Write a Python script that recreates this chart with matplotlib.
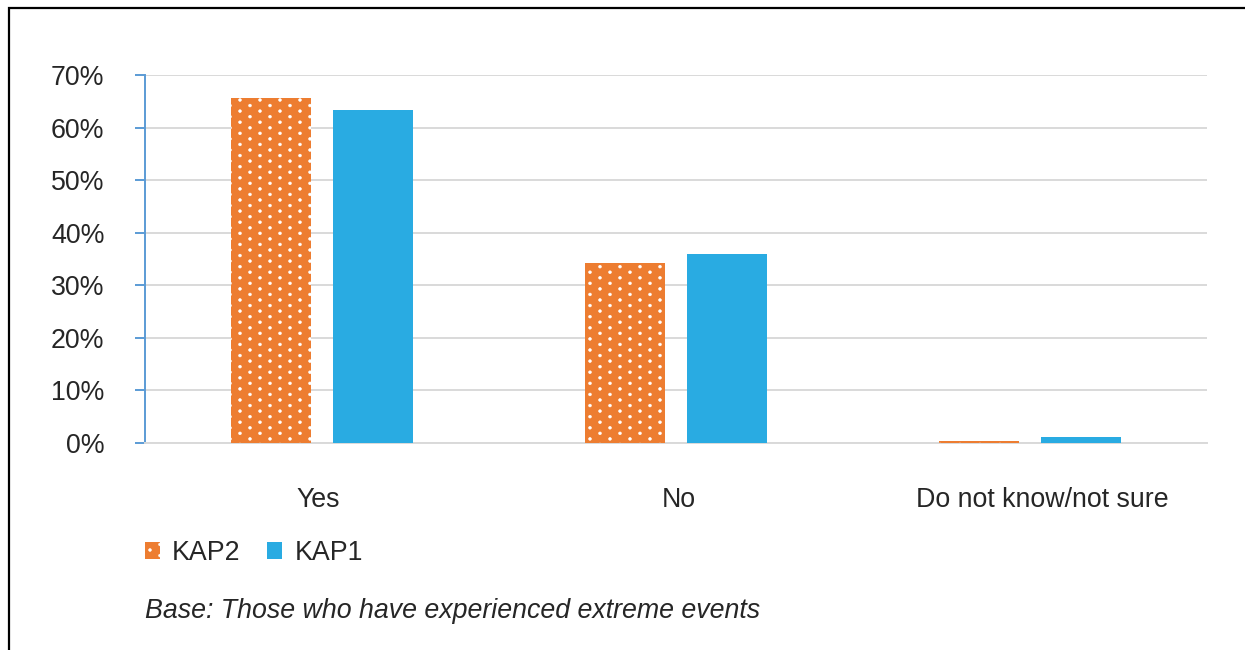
import matplotlib
matplotlib.use("Agg")
import matplotlib.pyplot as plt
import matplotlib.hatch as mhatch
import matplotlib.transforms as mtransforms
from matplotlib.path import Path
import numpy as np
from matplotlib.patches import Rectangle

plt.rcParams['font.family'] = ['Liberation Sans', 'DejaVu Sans']
plt.rcParams['hatch.linewidth'] = 0.4

categories = ["Yes", "No", "Do not know/not sure"]
kap2 = [65.6, 34.2, 0.3]
kap1 = [63.3, 36.0, 1.1]
yticks = [0, 10, 20, 30, 40, 50, 60, 70]
series_names = ["KAP2", "KAP1"]
caption = "Base: Those who have experienced extreme events"


# Custom staggered-dot texture for the '.' hatch (fill pattern only)
class StaggeredDots(mhatch.HatchPatternBase):
    n_rows = 18
    n_cols = 5
    radius = 0.014

    def __init__(self, hatch, density):
        self.on = hatch.count('.') > 0
        circ = Path.unit_circle()
        self.cv = circ.vertices * self.radius
        self.cc = circ.codes
        if self.on:
            n = 0
            for r in range(self.n_rows + 1):
                n += (self.n_cols + 1) if r % 2 == 0 else self.n_cols
            self.num_vertices = n * len(self.cv)
        else:
            self.num_vertices = 0

    def set_vertices_and_codes(self, vertices, codes):
        vparts, cparts = [], []
        step = 1.0 / self.n_cols
        for r in range(self.n_rows + 1):
            y = r / self.n_rows
            if r % 2 == 0:
                xs = np.linspace(0, 1, self.n_cols + 1)
            else:
                xs = np.linspace(step / 2, 1 - step / 2, self.n_cols)
            for xx in xs:
                vparts.append(self.cv + [xx, y])
                cparts.append(self.cc)
        np.concatenate(vparts, out=vertices)
        np.concatenate(cparts, out=codes)


mhatch._hatch_types[:] = [t for t in mhatch._hatch_types
                          if t is not mhatch.SmallFilledCircles] + [StaggeredDots]

W, H = 1245, 650
fig = plt.figure(figsize=(W / 100, H / 100), dpi=100)
ax = fig.add_axes([145 / W, 1 - 443 / H, (1207 - 145) / W, (443 - 75) / H])

orange = "#ED7D31"
blue = "#29ABE2"
text_col = "#262626"
grid_col = "#D9D9D9"
axis_blue = "#5B9BD5"
FS = 19.3

x = np.arange(len(categories))
bw = 0.228
off = 0.144
b2 = ax.bar(x - off, kap2, bw, color=orange, edgecolor="white", linewidth=0,
            hatch=".", label=series_names[0], zorder=3)
b1 = ax.bar(x + off, kap1, bw, color=blue, linewidth=0, label=series_names[1], zorder=3)

ax.set_xlim(-0.5, 2.5)
ax.set_ylim(0, 70)
ax.set_yticks(yticks)
ax.set_yticklabels([f"{v}%" for v in yticks])
ax.set_xticks(x)
ax.set_xticklabels(categories)

ax.yaxis.grid(True, color=grid_col, linewidth=1.4, zorder=0)
ax.set_axisbelow(True)
for s in ["top", "right"]:
    ax.spines[s].set_visible(False)
ax.spines["left"].set_color(axis_blue)
ax.spines["left"].set_linewidth(1.4)
ax.spines["bottom"].set_color(grid_col)
ax.spines["bottom"].set_linewidth(1.4)

ax.tick_params(axis="y", direction="out", length=7.2, width=1.4, color=axis_blue,
               labelsize=FS, labelcolor=text_col, pad=22)
ax.tick_params(axis="x", length=0, labelsize=FS, labelcolor=text_col, pad=32)

# small horizontal nudges of the category labels (in pixels) as in the original layout
label_nudge_px = [-4, 3, 12]
for lab, dx in zip(ax.get_xticklabels(), label_nudge_px):
    lab.set_transform(lab.get_transform() +
                      mtransforms.ScaledTranslation(dx / 100, 0, fig.dpi_scale_trans))

leg = fig.legend(handles=[b2, b1], labels=series_names, loc="center left",
                 bbox_to_anchor=(145 / W, 1 - 553 / H), ncol=2, frameon=False,
                 fontsize=FS, handlelength=0.56, handleheight=0.56,
                 handletextpad=0.45, columnspacing=1.0, borderpad=0, borderaxespad=0)
for t in leg.get_texts():
    t.set_color(text_col)

fig.text(145 / W, 1 - 611 / H, caption, fontsize=FS, style="italic",
         color=text_col, ha="left", va="center")

fig.patches.append(Rectangle((9 / W, -0.1), 1.2, 1 - 8 / H + 0.1, fill=False,
                             edgecolor="black", linewidth=1.6,
                             transform=fig.transFigure, figure=fig, clip_on=False))

fig.savefig("out.png", dpi=100)
